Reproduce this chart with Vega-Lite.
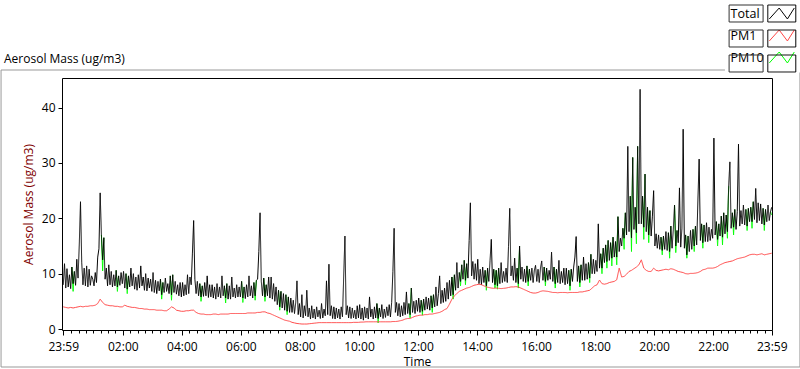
{
  "$schema": "https://vega.github.io/schema/vega-lite/v6.json",
  "autosize": {"type": "none"},
  "width": 710,
  "height": 252,
  "padding": {"left": 62, "top": 78, "right": 28, "bottom": 39},
  "background": "white",
  "title": {"text": "Aerosol Mass (ug/m3)", "anchor": "start", "frame": "group", "dx": -58, "dy": 91, "offset": 15, "baseline": "alphabetic", "font": "Open Sans", "fontSize": 12, "fontWeight": "normal", "color": "#000"},
  "data": {"values": [
{"m":0,"T":8.0,"P1":4.0},{"m":2.5,"T":11.8},{"m":5,"T":7.4,"P1":3.9},{"m":7.5,"T":10.9},{"m":10,"T":7.6,"P1":3.8},{"m":12.5,"T":9.8},{"m":15,"T":7.3,"P1":3.9},{"m":17.5,"T":11.2,"P10":11.2},{"m":20,"T":8.2,"P1":3.8,"P10":6.8},{"m":22.5,"T":10.4,"P10":10.4},{"m":25,"T":7.9,"P1":3.9},{"m":27.5,"T":12.6},{"m":30,"T":9.2,"P1":4.0},{"m":32.5,"T":15.2},{"m":35,"T":23.0,"P1":4.1},{"m":37.5,"T":12.0},{"m":40,"T":8.0,"P1":4.0},{"m":42.5,"T":11.0},{"m":45,"T":7.8,"P1":4.1},{"m":47.5,"T":11.4},{"m":50,"T":7.6,"P1":4.1},{"m":52.5,"T":10.8},{"m":55,"T":7.9,"P1":4.2},{"m":57.5,"T":9.6},
{"m":60,"T":9.0,"P1":4.2},{"m":62.5,"T":7.8},{"m":65,"T":10.2,"P1":4.3},{"m":67.5,"T":8.4},{"m":70,"T":13.0,"P1":4.6},{"m":72.5,"T":14.5},{"m":75,"T":24.6,"P1":5.4},{"m":77.5,"T":17.0,"P10":17.0},{"m":80,"T":12.5,"P1":4.8,"P10":10.5},{"m":82.5,"T":16.5,"P10":16.5},{"m":85,"T":9.0,"P1":4.4},{"m":87.5,"T":11.0},{"m":90,"T":7.8,"P1":4.3},{"m":92.5,"T":11.6},{"m":95,"T":8.0,"P1":4.2},{"m":97.5,"T":10.4},{"m":100,"T":7.6,"P1":4.2},{"m":102.5,"T":9.8},{"m":105,"T":7.8,"P1":4.1},{"m":107.5,"T":10.6,"P10":10.6},{"m":110,"T":7.6,"P1":4.1,"P10":6.8},{"m":112.5,"T":9.6,"P10":9.6},{"m":115,"T":7.9,"P1":4.0},{"m":117.5,"T":10.2},
{"m":120,"T":8.2,"P1":4.0},{"m":122.5,"T":10.4},{"m":125,"T":7.4,"P1":4.3},{"m":127.5,"T":10.0,"P10":10.0},{"m":130,"T":7.2,"P1":4.1,"P10":6.4},{"m":132.5,"T":9.6,"P10":9.6},{"m":135,"T":7.6,"P1":4.0},{"m":137.5,"T":11.0},{"m":140,"T":7.8,"P1":3.9},{"m":142.5,"T":10.0},{"m":145,"T":7.2,"P1":3.9},{"m":147.5,"T":9.4},{"m":150,"T":7.0,"P1":3.8},{"m":152.5,"T":9.8},{"m":155,"T":7.4,"P1":3.7},{"m":157.5,"T":11.4},{"m":160,"T":7.8,"P1":3.7},{"m":162.5,"T":9.4},{"m":165,"T":7.0,"P1":3.6},{"m":167.5,"T":10.0},{"m":170,"T":6.9,"P1":3.6},{"m":172.5,"T":9.2},{"m":175,"T":7.4,"P1":3.5},{"m":177.5,"T":9.0},
{"m":180,"T":6.8,"P1":3.5},{"m":182.5,"T":10.2},{"m":185,"T":6.6,"P1":3.5},{"m":187.5,"T":8.8},{"m":190,"T":6.4,"P1":3.4},{"m":192.5,"T":8.6},{"m":195,"T":6.9,"P1":3.4},{"m":197.5,"T":9.0,"P10":9.0},{"m":200,"T":6.2,"P1":3.4,"P10":5.4},{"m":202.5,"T":8.4,"P10":8.4},{"m":205,"T":6.6,"P1":3.3},{"m":207.5,"T":9.2},{"m":210,"T":6.8,"P1":3.3},{"m":212.5,"T":8.2},{"m":215,"T":6.4,"P1":3.6},{"m":217.5,"T":9.6,"P10":9.6},{"m":220,"T":6.2,"P1":4.0,"P10":5.2},{"m":222.5,"T":9.8,"P10":9.8},{"m":225,"T":6.6,"P1":3.8},{"m":227.5,"T":8.6},{"m":230,"T":6.3,"P1":3.4},{"m":232.5,"T":8.0},{"m":235,"T":6.0,"P1":3.3},{"m":237.5,"T":8.4},
{"m":240,"T":5.8,"P1":3.2},{"m":242.5,"T":8.4},{"m":245,"T":6.0,"P1":3.2},{"m":247.5,"T":8.0},{"m":250,"T":6.2,"P1":3.3},{"m":252.5,"T":9.8},{"m":255,"T":6.4,"P1":3.3},{"m":257.5,"T":9.4},{"m":260,"T":8.0,"P1":3.4},{"m":262.5,"T":13.7},{"m":265,"T":19.6,"P1":3.4},{"m":267.5,"T":9.0},{"m":270,"T":6.4,"P1":3.0},{"m":272.5,"T":8.6},{"m":275,"T":6.0,"P1":2.8},{"m":277.5,"T":8.2,"P10":8.2},{"m":280,"T":5.8,"P1":2.7,"P10":5.0},{"m":282.5,"T":7.8,"P10":7.8},{"m":285,"T":5.9,"P1":2.7},{"m":287.5,"T":8.4},{"m":290,"T":6.0,"P1":2.6},{"m":292.5,"T":9.6},{"m":295,"T":5.7,"P1":2.6},{"m":297.5,"T":8.0},
{"m":300,"T":5.8,"P1":2.6},{"m":302.5,"T":8.0},{"m":305,"T":5.6,"P1":2.7},{"m":307.5,"T":7.6},{"m":310,"T":5.4,"P1":2.7},{"m":312.5,"T":8.2},{"m":315,"T":5.8,"P1":2.6},{"m":317.5,"T":7.6},{"m":320,"T":5.6,"P1":2.7},{"m":322.5,"T":9.6},{"m":325,"T":6.0,"P1":2.7},{"m":327.5,"T":7.8,"P10":7.8},{"m":330,"T":5.6,"P1":2.7,"P10":4.7},{"m":332.5,"T":8.2,"P10":8.2},{"m":335,"T":5.4,"P1":2.7},{"m":337.5,"T":7.8},{"m":340,"T":5.4,"P1":2.8},{"m":342.5,"T":9.4},{"m":345,"T":5.8,"P1":2.8},{"m":347.5,"T":7.4},{"m":350,"T":5.6,"P1":2.8},{"m":352.5,"T":8.0},{"m":355,"T":5.8,"P1":2.8},{"m":357.5,"T":7.6},
{"m":360,"T":5.8,"P1":2.8},{"m":362.5,"T":8.6,"P10":8.6},{"m":365,"T":5.6,"P1":2.8,"P10":4.8},{"m":367.5,"T":7.6,"P10":7.6},{"m":370,"T":5.5,"P1":2.8},{"m":372.5,"T":8.0},{"m":375,"T":5.8,"P1":2.9},{"m":377.5,"T":9.6},{"m":380,"T":6.0,"P1":2.9},{"m":382.5,"T":7.8},{"m":385,"T":5.6,"P1":2.9},{"m":387.5,"T":8.4,"P10":8.4},{"m":390,"T":6.0,"P1":2.9,"P10":5.2},{"m":392.5,"T":8.8,"P10":8.8},{"m":395,"T":9.0,"P1":3.0},{"m":397.5,"T":14.0},{"m":400,"T":21.0,"P1":3.0},{"m":402.5,"T":8.6},{"m":405,"T":6.0,"P1":3.1},{"m":407.5,"T":9.2,"P10":9.2},{"m":410,"T":5.8,"P1":3.1,"P10":5.0},{"m":412.5,"T":8.0,"P10":8.0},{"m":415,"T":6.0,"P1":2.9},{"m":417.5,"T":9.4},
{"m":420,"T":5.6,"P1":2.8},{"m":422.5,"T":9.4},{"m":425,"T":5.4,"P1":2.6},{"m":427.5,"T":8.2},{"m":430,"T":5.0,"P1":2.4},{"m":432.5,"T":7.6},{"m":435,"T":4.4,"P1":2.2},{"m":437.5,"T":7.0,"P10":7.0},{"m":440,"T":4.0,"P1":2.0,"P10":3.4},{"m":442.5,"T":6.8,"P10":6.8},{"m":445,"T":3.8,"P1":1.8},{"m":447.5,"T":6.4},{"m":450,"T":3.4,"P1":1.6},{"m":452.5,"T":6.2,"P10":6.2},{"m":455,"T":3.2,"P1":1.5,"P10":2.6},{"m":457.5,"T":5.8,"P10":5.8},{"m":460,"T":3.0,"P1":1.4},{"m":462.5,"T":5.6},{"m":465,"T":3.0,"P1":1.2},{"m":467.5,"T":5.2},{"m":470,"T":2.8,"P1":1.1},{"m":472.5,"T":4.8},{"m":475,"T":8.7,"P1":1.0},{"m":477.5,"T":2.6},
{"m":480,"T":4.6,"P1":0.95},{"m":482.5,"T":2.2},{"m":485,"T":6.2,"P1":0.9},{"m":487.5,"T":2.0},{"m":490,"T":4.2,"P1":0.9},{"m":492.5,"T":2.4},{"m":495,"T":7.0,"P1":0.9},{"m":497.5,"T":2.2},{"m":500,"T":3.8,"P1":0.95},{"m":502.5,"T":1.8},{"m":505,"T":4.2,"P1":1.0},{"m":507.5,"T":2.0},{"m":510,"T":3.6,"P1":1.05},{"m":512.5,"T":1.8},{"m":515,"T":4.0,"P1":1.1},{"m":517.5,"T":2.2},{"m":520,"T":3.4,"P1":1.15},{"m":522.5,"T":1.9},{"m":525,"T":4.6,"P1":1.15},{"m":527.5,"T":2.0},{"m":530,"T":3.6,"P1":1.15},{"m":532.5,"T":2.4},{"m":535,"T":8.7,"P1":1.15},{"m":537.5,"T":2.6},
{"m":540,"T":11.7,"P1":1.15},{"m":542.5,"T":2.4},{"m":545,"T":4.2,"P1":1.15},{"m":547.5,"T":1.9},{"m":550,"T":4.0,"P1":1.15},{"m":552.5,"T":1.8},{"m":555,"T":3.8,"P1":1.15},{"m":557.5,"T":2.0},{"m":560,"T":3.6,"P1":1.15},{"m":562.5,"T":1.8},{"m":565,"T":4.0,"P1":1.15},{"m":567.5,"T":2.2},{"m":570,"T":9.5,"P1":1.15},{"m":572.5,"T":16.8},{"m":575,"T":2.6,"P1":1.15},{"m":577.5,"T":4.2},{"m":580,"T":2.0,"P1":1.15},{"m":582.5,"T":4.0},{"m":585,"T":1.9,"P1":1.15},{"m":587.5,"T":3.8},{"m":590,"T":2.0,"P1":1.2},{"m":592.5,"T":3.4},{"m":595,"T":1.8,"P1":1.2},{"m":597.5,"T":4.2},
{"m":600,"T":2.0,"P1":1.2},{"m":602.5,"T":4.4},{"m":605,"T":1.8,"P1":1.25},{"m":607.5,"T":3.8},{"m":610,"T":1.6,"P1":1.25},{"m":612.5,"T":4.0},{"m":615,"T":2.0,"P1":1.3},{"m":617.5,"T":3.8},{"m":620,"T":1.8,"P1":1.3},{"m":622.5,"T":5.8},{"m":625,"T":2.2,"P1":1.3},{"m":627.5,"T":3.6},{"m":630,"T":1.8,"P1":1.3},{"m":632.5,"T":4.0},{"m":635,"T":2.0,"P1":1.3},{"m":637.5,"T":4.6,"P10":4.6},{"m":640,"T":1.9,"P1":1.3,"P10":1.1},{"m":642.5,"T":3.8,"P10":3.8},{"m":645,"T":2.2,"P1":1.3},{"m":647.5,"T":4.4},{"m":650,"T":1.9,"P1":1.3},{"m":652.5,"T":3.6},{"m":655,"T":2.1,"P1":1.3},{"m":657.5,"T":4.0},
{"m":660,"T":2.4,"P1":1.3},{"m":662.5,"T":4.4},{"m":665,"T":2.2,"P1":1.3},{"m":667.5,"T":4.8},{"m":670,"T":10.4,"P1":1.35},{"m":672.5,"T":18.2},{"m":675,"T":3.0,"P1":1.35},{"m":677.5,"T":4.8},{"m":680,"T":2.4,"P1":1.4},{"m":682.5,"T":4.6},{"m":685,"T":2.2,"P1":1.5},{"m":687.5,"T":4.2},{"m":690,"T":2.4,"P1":1.6},{"m":692.5,"T":4.8},{"m":695,"T":2.6,"P1":1.8},{"m":697.5,"T":6.7},{"m":700,"T":2.8,"P1":1.9},{"m":702.5,"T":4.6,"P10":4.6},{"m":705,"T":2.6,"P1":1.9,"P10":2.0},{"m":707.5,"T":7.4,"P10":7.4},{"m":710,"T":3.0,"P1":2.1},{"m":712.5,"T":5.0},{"m":715,"T":2.8,"P1":2.3},{"m":717.5,"T":5.2},
{"m":720,"T":3.2,"P1":2.4},{"m":722.5,"T":5.6},{"m":725,"T":3.0,"P1":2.5},{"m":727.5,"T":5.2,"P10":5.2},{"m":730,"T":3.2,"P1":2.5,"P10":2.5},{"m":732.5,"T":5.4,"P10":5.4},{"m":735,"T":3.4,"P1":2.6},{"m":737.5,"T":5.8},{"m":740,"T":3.6,"P1":2.6},{"m":742.5,"T":5.6},{"m":745,"T":3.4,"P1":2.7},{"m":747.5,"T":6.0,"P10":6.0},{"m":750,"T":3.8,"P1":2.7,"P10":3.0},{"m":752.5,"T":6.2,"P10":6.2},{"m":755,"T":4.0,"P1":2.8},{"m":757.5,"T":7.6},{"m":760,"T":4.2,"P1":2.9},{"m":762.5,"T":6.4},{"m":765,"T":9.6,"P1":3.0},{"m":767.5,"T":4.6},{"m":770,"T":7.0,"P1":3.2},{"m":772.5,"T":4.8},{"m":775,"T":7.4,"P1":3.5},{"m":777.5,"T":5.0},
{"m":780,"T":8.4,"P1":3.7},{"m":782.5,"T":5.4},{"m":785,"T":8.8,"P1":4.5},{"m":787.5,"T":6.0},{"m":790,"T":9.4,"P1":5.4,"P10":9.4},{"m":792.5,"T":6.2,"P10":5.4},{"m":795,"T":9.8,"P1":6.0,"P10":9.8},{"m":797.5,"T":7.0},{"m":800,"T":12.0,"P1":6.4},{"m":802.5,"T":7.4},{"m":805,"T":10.2,"P1":6.8,"P10":10.2},{"m":807.5,"T":8.6,"P10":7.8},{"m":810,"T":11.6,"P1":7.0,"P10":11.6},{"m":812.5,"T":9.0},{"m":815,"T":12.4,"P1":7.2,"P10":12.4},{"m":817.5,"T":8.8,"P10":8.0},{"m":820,"T":11.8,"P1":7.4,"P10":11.8},{"m":822.5,"T":9.2},{"m":825,"T":16.0,"P1":7.5},{"m":827.5,"T":22.8},{"m":830,"T":9.6,"P1":7.7},{"m":832.5,"T":12.2},{"m":835,"T":9.0,"P1":7.9},{"m":837.5,"T":11.8},
{"m":840,"T":8.8,"P1":8.0},{"m":842.5,"T":12.6},{"m":845,"T":8.2,"P1":8.1},{"m":847.5,"T":10.8},{"m":850,"T":8.0,"P1":8.0},{"m":852.5,"T":11.2},{"m":855,"T":8.4,"P1":7.8},{"m":857.5,"T":10.6,"P10":10.6},{"m":860,"T":7.8,"P1":7.6,"P10":7.0},{"m":862.5,"T":11.0,"P10":11.0},{"m":865,"T":8.6,"P1":7.5},{"m":867.5,"T":12.4},{"m":870,"T":16.2,"P1":7.4},{"m":872.5,"T":8.4},{"m":875,"T":10.8,"P1":7.35,"P10":10.8},{"m":877.5,"T":8.0,"P10":7.4},{"m":880,"T":10.6,"P1":7.4,"P10":10.6},{"m":882.5,"T":7.8,"P10":7.2},{"m":885,"T":11.0,"P1":7.35,"P10":11.0},{"m":887.5,"T":8.2},{"m":890,"T":12.0,"P1":7.3},{"m":892.5,"T":8.4},{"m":895,"T":10.4,"P1":7.35},{"m":897.5,"T":8.6},
{"m":900,"T":11.0,"P1":7.4},{"m":902.5,"T":8.4},{"m":905,"T":14.9,"P1":7.5},{"m":907.5,"T":21.8},{"m":910,"T":9.6,"P1":7.6},{"m":912.5,"T":11.4},{"m":915,"T":8.8,"P1":7.6},{"m":917.5,"T":12.8},{"m":920,"T":8.4,"P1":7.65},{"m":922.5,"T":11.0,"P10":11.0},{"m":925,"T":8.2,"P1":7.6,"P10":7.4},{"m":927.5,"T":15.0,"P10":15.0},{"m":930,"T":9.0,"P1":7.4},{"m":932.5,"T":11.2},{"m":935,"T":8.6,"P1":7.2},{"m":937.5,"T":10.8},{"m":940,"T":8.4,"P1":7.0},{"m":942.5,"T":11.4,"P10":11.4},{"m":945,"T":8.6,"P1":6.8,"P10":7.8},{"m":947.5,"T":10.8,"P10":10.8},{"m":950,"T":8.8,"P1":6.6},{"m":952.5,"T":11.0},{"m":955,"T":8.4,"P1":6.5},{"m":957.5,"T":10.6},
{"m":960,"T":11.5,"P1":6.5},{"m":962.5,"T":8.6},{"m":965,"T":10.8,"P1":6.6},{"m":967.5,"T":8.4},{"m":970,"T":11.0,"P1":6.8},{"m":972.5,"T":12.3},{"m":975,"T":8.8,"P1":6.9},{"m":977.5,"T":11.2,"P10":11.2},{"m":980,"T":8.6,"P1":6.85,"P10":7.8},{"m":982.5,"T":11.0,"P10":11.0},{"m":985,"T":8.8,"P1":6.8},{"m":987.5,"T":10.6},{"m":990,"T":9.0,"P1":6.7},{"m":992.5,"T":13.9},{"m":995,"T":8.6,"P1":6.6},{"m":997.5,"T":11.2,"P10":11.2},{"m":1000,"T":8.2,"P1":6.6,"P10":7.4},{"m":1002.5,"T":10.8,"P10":10.8},{"m":1005,"T":8.4,"P1":6.55},{"m":1007.5,"T":12.4},{"m":1010,"T":8.2,"P1":6.6},{"m":1012.5,"T":10.4},{"m":1015,"T":8.4,"P1":6.6},{"m":1017.5,"T":11.0},
{"m":1020,"T":8.0,"P1":6.6},{"m":1022.5,"T":11.0},{"m":1025,"T":8.2,"P1":6.55},{"m":1027.5,"T":10.6,"P10":10.6},{"m":1030,"T":7.8,"P1":6.6,"P10":7.0},{"m":1032.5,"T":10.8,"P10":10.8},{"m":1035,"T":8.6,"P1":6.6},{"m":1037.5,"T":11.2},{"m":1040,"T":13.0,"P1":6.6},{"m":1042.5,"T":16.7},{"m":1045,"T":8.6,"P1":6.6},{"m":1047.5,"T":11.4,"P10":11.4},{"m":1050,"T":8.4,"P1":6.7,"P10":7.6},{"m":1052.5,"T":11.6,"P10":11.6},{"m":1055,"T":8.8,"P1":6.7},{"m":1057.5,"T":13.0},{"m":1060,"T":8.8,"P1":6.8},{"m":1062.5,"T":11.8},{"m":1065,"T":9.0,"P1":6.9},{"m":1067.5,"T":12.0,"P10":12.0},{"m":1070,"T":9.2,"P1":7.0,"P10":8.4},{"m":1072.5,"T":13.5,"P10":13.5},{"m":1075,"T":10.0,"P1":7.4},{"m":1077.5,"T":12.6},
{"m":1080,"T":10.0,"P1":7.8},{"m":1082.5,"T":12.4},{"m":1085,"T":10.4,"P1":8.0},{"m":1087.5,"T":19.0},{"m":1090,"T":11.0,"P1":8.85},{"m":1092.5,"T":13.6,"P10":13.6},{"m":1095,"T":11.0,"P1":8.2,"P10":10.0},{"m":1097.5,"T":14.6,"P10":14.6},{"m":1100,"T":12.0,"P1":8.1},{"m":1102.5,"T":15.2,"P10":15.2},{"m":1105,"T":12.2,"P1":8.2,"P10":11.0},{"m":1107.5,"T":16.0,"P10":16.0},{"m":1110,"T":12.4,"P1":8.4},{"m":1112.5,"T":15.6,"P10":15.6},{"m":1115,"T":12.8,"P1":8.5,"P10":11.4},{"m":1117.5,"T":16.6,"P10":16.6},{"m":1120,"T":13.0,"P1":8.6},{"m":1122.5,"T":15.8,"P10":15.8},{"m":1125,"T":13.0,"P1":8.9,"P10":11.6},{"m":1127.5,"T":20.3,"P10":20.3},{"m":1130,"T":14.0,"P1":11.0},{"m":1132.5,"T":16.4},{"m":1135,"T":15.0,"P1":9.4},{"m":1137.5,"T":18.2,"P10":18.2},
{"m":1140,"T":16.4,"P1":9.5,"P10":14.4},{"m":1142.5,"T":21.0,"P10":21.0},{"m":1145,"T":17.0,"P1":9.9},{"m":1147.5,"T":33.0},{"m":1150,"T":17.6,"P1":10.4},{"m":1152.5,"T":24.0,"P10":24.0},{"m":1155,"T":16.5,"P1":10.6,"P10":14.0},{"m":1157.5,"T":31.0,"P10":31.0},{"m":1160,"T":18.0,"P1":10.9},{"m":1162.5,"T":22.0,"P10":22.0},{"m":1165,"T":17.4,"P1":11.2,"P10":15.4},{"m":1167.5,"T":33.0,"P10":33.0},{"m":1170,"T":19.0,"P1":11.6},{"m":1172.5,"T":43.3},{"m":1175,"T":19.0,"P1":12.5},{"m":1177.5,"T":24.0,"P10":24.0},{"m":1180,"T":18.4,"P1":11.0,"P10":16.2},{"m":1182.5,"T":28.0,"P10":28.0},{"m":1185,"T":17.6,"P1":10.6},{"m":1187.5,"T":22.0,"P10":22.0},{"m":1190,"T":17.0,"P1":10.4,"P10":15.6},{"m":1192.5,"T":21.4,"P10":21.4},{"m":1195,"T":16.8,"P1":10.4},{"m":1197.5,"T":20.4},
{"m":1200,"T":25.0,"P1":11.0},{"m":1202.5,"T":15.0},{"m":1205,"T":17.2,"P1":10.6},{"m":1207.5,"T":14.6},{"m":1210,"T":17.0,"P1":10.5},{"m":1212.5,"T":14.4},{"m":1215,"T":16.6,"P1":10.6,"P10":16.6},{"m":1217.5,"T":14.2,"P10":13.4},{"m":1220,"T":16.8,"P1":10.7,"P10":16.8},{"m":1222.5,"T":14.4},{"m":1225,"T":17.6,"P1":10.8},{"m":1227.5,"T":14.2},{"m":1230,"T":17.4,"P1":10.7,"P10":17.4},{"m":1232.5,"T":14.0,"P10":12.8},{"m":1235,"T":18.6,"P1":10.9,"P10":18.6},{"m":1237.5,"T":14.6},{"m":1240,"T":18.0,"P1":10.8},{"m":1242.5,"T":22.4,"P10":22.4},{"m":1245,"T":15.0,"P1":10.6,"P10":13.8},{"m":1247.5,"T":17.8,"P10":17.8},{"m":1250,"T":15.6,"P1":10.4},{"m":1252.5,"T":25.5},{"m":1255,"T":14.8,"P1":10.3},{"m":1257.5,"T":18.2},
{"m":1260,"T":36.1,"P1":10.2},{"m":1262.5,"T":14.6},{"m":1265,"T":17.0,"P1":10.0,"P10":17.0},{"m":1267.5,"T":13.4,"P10":12.8},{"m":1270,"T":16.8,"P1":9.95,"P10":16.8},{"m":1272.5,"T":14.0},{"m":1275,"T":17.8,"P1":10.05},{"m":1277.5,"T":14.4},{"m":1280,"T":18.0,"P1":10.05,"P10":18.0},{"m":1282.5,"T":15.0,"P10":14.0},{"m":1285,"T":18.6,"P1":10.1,"P10":18.6},{"m":1287.5,"T":15.2},{"m":1290,"T":23.3,"P1":10.2},{"m":1292.5,"T":30.7},{"m":1295,"T":16.0,"P1":10.4},{"m":1297.5,"T":19.0,"P10":19.0},{"m":1300,"T":15.6,"P1":10.7,"P10":14.6},{"m":1302.5,"T":18.8,"P10":18.8},{"m":1305,"T":15.8,"P1":10.8},{"m":1307.5,"T":19.2},{"m":1310,"T":15.8,"P1":11.0},{"m":1312.5,"T":18.4},{"m":1315,"T":16.0,"P1":11.0},{"m":1317.5,"T":18.0},
{"m":1320,"T":16.4,"P1":11.0},{"m":1322.5,"T":34.5},{"m":1325,"T":17.0,"P1":11.1},{"m":1327.5,"T":19.4,"P10":19.4},{"m":1330,"T":16.2,"P1":11.3,"P10":15.0},{"m":1332.5,"T":19.0,"P10":19.0},{"m":1335,"T":16.8,"P1":11.6},{"m":1337.5,"T":20.4,"P10":20.4},{"m":1340,"T":16.6,"P1":11.8,"P10":15.2},{"m":1342.5,"T":21.0,"P10":21.0},{"m":1345,"T":17.2,"P1":12.0},{"m":1347.5,"T":20.6,"P10":20.6},{"m":1350,"T":17.6,"P1":12.1,"P10":16.4},{"m":1352.5,"T":25.8,"P10":25.8},{"m":1355,"T":30.2,"P1":12.2},{"m":1357.5,"T":18.2},{"m":1360,"T":21.0,"P1":12.3,"P10":21.0},{"m":1362.5,"T":18.4,"P10":17.0},{"m":1365,"T":21.6,"P1":12.5,"P10":21.6},{"m":1367.5,"T":18.0},{"m":1370,"T":21.2,"P1":12.7},{"m":1372.5,"T":33.4},{"m":1375,"T":18.6,"P1":12.8},{"m":1377.5,"T":21.4},
{"m":1380,"T":19.0,"P1":12.9},{"m":1382.5,"T":22.4},{"m":1385,"T":18.8,"P1":13.0},{"m":1387.5,"T":21.6,"P10":21.6},{"m":1390,"T":18.6,"P1":13.2,"P10":17.8},{"m":1392.5,"T":21.8,"P10":21.8},{"m":1395,"T":19.4,"P1":13.4},{"m":1397.5,"T":22.0,"P10":22.0},{"m":1400,"T":19.4,"P1":13.5,"P10":18.2},{"m":1402.5,"T":23.0,"P10":23.0},{"m":1405,"T":19.8,"P1":13.5},{"m":1407.5,"T":25.4},{"m":1410,"T":19.2,"P1":13.4},{"m":1412.5,"T":22.8},{"m":1415,"T":19.6,"P1":13.5},{"m":1417.5,"T":22.6},{"m":1420,"T":19.0,"P1":13.6},{"m":1422.5,"T":21.8,"P10":21.8},{"m":1425,"T":18.8,"P1":13.4,"P10":17.8},{"m":1427.5,"T":21.6,"P10":21.6},{"m":1430,"T":19.4,"P1":13.5},{"m":1432.5,"T":22.4},{"m":1435,"T":19.6,"P1":13.6},{"m":1437.5,"T":21.2,"P10":21.2},{"m":1440,"T":22.0,"P1":13.7,"P10":20.6}
  ]},
  "encoding": {
    "x": {
      "field": "m", "type": "quantitative",
      "scale": {"domain": [-2.6, 1440.6], "nice": false, "zero": false},
      "axis": {
        "title": "Time",
        "values": [0,16,31,46,61,76,91,106,121,136,151,166,181,196,211,226,241,256,271,286,301,316,331,346,361,376,391,406,421,436,451,466,481,496,511,526,541,556,571,586,601,616,631,646,661,676,691,706,721,736,751,766,781,796,811,826,841,856,871,886,901,916,931,946,961,976,991,1006,1021,1036,1051,1066,1081,1096,1111,1126,1141,1156,1171,1186,1201,1216,1231,1246,1261,1276,1291,1306,1321,1336,1351,1366,1381,1396,1411,1426,1440],
        "labelExpr": "datum.value == 0 || datum.value == 1440 ? '23:59' : ((datum.value - 1) % 120 == 0 ? format((datum.value - 1) / 60, '02d') + ':00' : '')",
        "tickSize": {"condition": {"test": "datum.value == 0 || datum.value == 1440 || (datum.value - 1) % 120 == 0", "value": 5}, "value": 3},
        "labelOverlap": false, "labelFlush": false, "labelPadding": 6,
        "grid": false, "domain": false, "tickColor": "#000",
        "titlePadding": 4
      }
    }
  },
  "layer": [
    {
      "mark": {"type": "line", "strokeWidth": 1, "invalid": "break-paths-show-domains"},
      "encoding": {
        "y": {"field": "P10", "type": "quantitative", "scale": {"domain": [-0.18, 45.36], "nice": false, "zero": false},
          "axis": {"title": "Aerosol Mass (ug/m3)", "values": [0,5,10,15,20,25,30,35,40,45], "tickSize": 4, "labelPadding": 3, "grid": false, "domain": false, "tickColor": "#000", "titleColor": "#800000", "titlePadding": 6}},
        "color": {"datum": "PM10", "type": "nominal", "scale": {"domain": ["Total", "PM1", "PM10"], "range": ["#000000", "#ff4646", "#00ff00"]},
          "legend": {"orient": "none", "legendX": 705.3, "legendY": -79, "title": null, "direction": "vertical", "symbolType": "M-0.912,0.4L-0.19,-0.4L0.41,0.4L0.912,-0.4", "symbolSize": 750, "symbolStrokeWidth": 1, "symbolFillColor": "transparent", "labelFont": "Open Sans", "labelFontSize": 12.5, "labelColor": "#000", "labelOffset": -65.7, "labelAlign": "left", "rowPadding": 0, "padding": 0}},
        "strokeDash": {"datum": "PM10", "type": "nominal", "scale": {"domain": ["PM1", "Total", "PM10"], "range": [[1, 0], [1, 0], [1, 0]]},
          "legend": {"orient": "none", "legendX": 705.3, "legendY": -79, "title": null, "direction": "vertical", "symbolType": "M-1.022,-0.62H1.022V0.62H-1.022Z", "symbolSize": 750, "symbolStrokeWidth": 1, "symbolStrokeColor": "#333333", "symbolFillColor": "transparent", "labelExpr": "''", "rowPadding": 0, "padding": 0}}
      }
    },
    {
      "mark": {"type": "line", "strokeWidth": 1},
      "encoding": {
        "y": {"field": "T", "type": "quantitative"},
        "color": {"datum": "Total", "type": "nominal"},
        "strokeDash": {"datum": "Total", "type": "nominal"}
      }
    },
    {
      "mark": {"type": "line", "strokeWidth": 1, "invalid": "filter"},
      "encoding": {
        "y": {"field": "P1", "type": "quantitative"},
        "color": {"datum": "PM1", "type": "nominal"},
        "strokeDash": {"datum": "PM1", "type": "nominal"}
      }
    },
    {
      "mark": {"type": "point", "opacity": 0, "size": 1},
      "encoding": {
        "y": {"field": "T", "type": "quantitative"},
        "shape": {"datum": "PM1", "type": "nominal", "scale": {"domain": ["PM10", "PM1", "Total"], "range": ["M-1.241,-0.62H1.241V0.62H-1.241Z", "M-1.241,-0.62H1.241V0.62H-1.241Z", "M-1.241,-0.62H1.241V0.62H-1.241Z"]},
          "legend": {"orient": "none", "legendX": 669.6, "legendY": -79, "title": null, "direction": "vertical", "symbolSize": 750, "symbolStrokeWidth": 1, "symbolStrokeColor": "#333333", "symbolFillColor": "transparent", "symbolOpacity": 1, "labelExpr": "''", "rowPadding": 0, "padding": 0}}
      }
    },
    {
      "mark": {"type": "point", "opacity": 0, "size": 1},
      "encoding": {
        "y": {"field": "T", "type": "quantitative"},
        "shape": {"datum": "frame", "type": "nominal", "scale": {"domain": ["frame"], "range": ["M2.163,-0.99H-2.663V0.99H2.663V-0.973"]},
          "legend": {"orient": "none", "legendX": 188, "legendY": -10, "title": null, "direction": "vertical", "symbolSize": 90000, "symbolStrokeWidth": 1, "symbolStrokeColor": "#999999", "symbolFillColor": "transparent", "symbolOpacity": 1, "labelExpr": "''", "padding": 0}}
      }
    }
  ],
  "resolve": {"scale": {"shape": "independent"}, "legend": {"shape": "independent"}},
  "config": {
    "view": {"stroke": "#000", "strokeWidth": 1},
    "axis": {"labelFont": "Open Sans", "labelFontSize": 12, "labelColor": "#000", "titleFont": "Open Sans", "titleFontSize": 12, "titleFontWeight": "normal", "titleColor": "#000"}
  }
}
